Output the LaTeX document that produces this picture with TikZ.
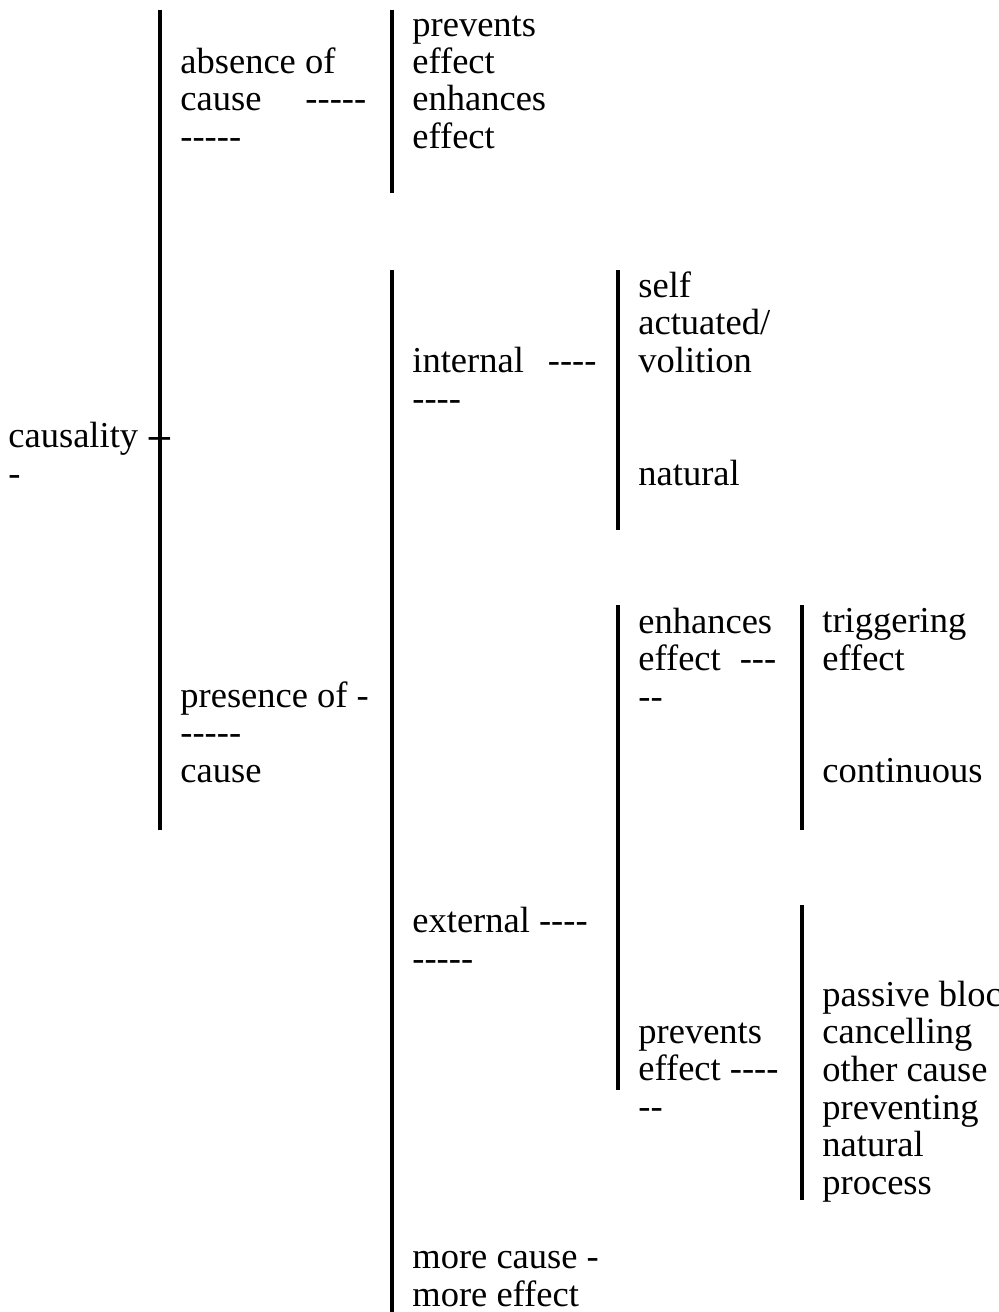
\documentclass[tikz,border=0pt]{standalone}
\usepackage{fontspec}
\setmainfont{Liberation Serif}[Ligatures=TeXOff]
\usepackage{tikz}

\begin{document}
\begin{tikzpicture}[x=0.5pt,y=-0.5pt,
	every node/.style={font=\fontsize{18.25pt}{18.65pt}\selectfont,inner sep=0pt,anchor=base west,align=left},
	vbar/.style={line width=1.7pt}]
	\useasboundingbox (0,0) rectangle (998,1312);
	\clip (0,0) rectangle (998,1312);
	\draw[vbar] (160,10) -- (160,830);
	\draw[vbar] (392,10) -- (392,193);
	\draw[vbar] (392,270) -- (392,1312);
	\draw[vbar] (618,270) -- (618,530);
	\draw[vbar] (618,605) -- (618,1090);
	\draw[vbar] (802,605) -- (802,830);
	\draw[vbar] (802,905) -- (802,1200);
	\node (causality) at (8,485) {causality --\\-};
	\node (absence) at (180,148) {absence of\\cause\hspace{22pt}-----\\-----};
	\node (absencefx) at (412,148) {prevents\\effect\\enhances\\effect};
	\node (presence) at (180,782) {presence of -\\-----\\cause};
	\node (internal) at (412,410) {internal\hspace{12pt}----\\----};
	\node (selfact) at (638,372) {self\\actuated/\\volition};
	\node (natural) at (638,485) {natural};
	\node (external) at (412,970) {external ----\\-----};
	\node (enhances) at (638,708) {enhances\\effect\hspace{9.5pt}---\\--};
	\node (triggering) at (822,670) {triggering\\effect};
	\node (continuous) at (822,782) {continuous};
	\node (prevents) at (638,1118) {prevents\\effect ----\\--};
	\node (passive) at (822,1081) {passive blocking\\cancelling\\other cause};
	\node (preventing) at (822,1194) {preventing\\natural\\process};
	\node (morecause) at (412,1306) {more cause -\\more effect};
\end{tikzpicture}
\end{document}
